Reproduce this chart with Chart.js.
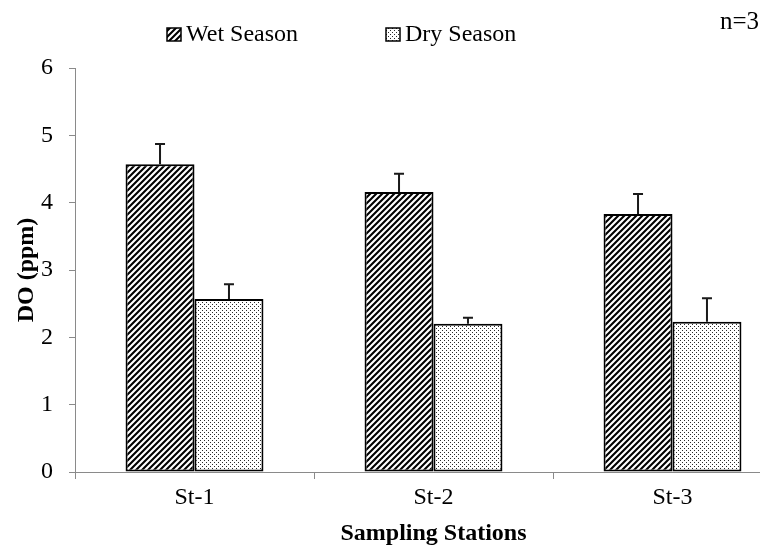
<!DOCTYPE html>
<html>
<head>
<meta charset="utf-8">
<title>DO (ppm) by sampling station</title>
<script src="https://cdn.jsdelivr.net/npm/chart.js@4.4.0/dist/chart.umd.min.js"></script>
<style>
  html, body { margin: 0; padding: 0; background: #fff; overflow: hidden; width: 760px; height: 548px; }
  canvas { display: block; }
</style>
</head>
<body>
<canvas id="doChart" width="800" height="548"></canvas>
<script>
// data
const stations = ["St-1", "St-2", "St-3"];
const wetSeason = [4.57, 4.16, 3.83];
const wetError = [0.30, 0.27, 0.30];
const drySeason = [2.57, 2.20, 2.23];
const dryError = [0.22, 0.09, 0.35];
const seasonLabels = ["Wet Season", "Dry Season"];
const yTicks = [0, 1, 2, 3, 4, 5, 6];

const SERIF = "'Liberation Serif', 'Times New Roman', serif";

function hatchPattern(ctx) {
  const s = 6;
  const c = document.createElement("canvas");
  c.width = s; c.height = s;
  const p = c.getContext("2d");
  p.fillStyle = "#fff";
  p.fillRect(0, 0, s, s);
  p.strokeStyle = "#000";
  p.lineWidth = 2.1;
  p.beginPath();
  p.moveTo(-1, s + 1); p.lineTo(s + 1, -1);
  p.moveTo(-1, 1); p.lineTo(1, -1);
  p.moveTo(s - 1, s + 1); p.lineTo(s + 1, s - 1);
  p.stroke();
  return ctx.createPattern(c, "repeat");
}

function dotPattern(ctx) {
  const c = document.createElement("canvas");
  c.width = 4; c.height = 4;
  const p = c.getContext("2d");
  p.fillStyle = "#fff";
  p.fillRect(0, 0, 4, 4);
  p.fillStyle = "#2a2a2a";
  p.fillRect(0, 0, 1, 1);
  p.fillRect(2, 2, 1, 1);
  return ctx.createPattern(c, "repeat");
}

const canvas = document.getElementById("doChart");
const ctx = canvas.getContext("2d");

// upward-only error bars, positioned through the y scale
const errorBars = {
  id: "errorBars",
  afterDatasetsDraw(chart) {
    const y = chart.scales.y;
    const g = chart.ctx;
    g.save();
    g.strokeStyle = "#1a1a1a";
    g.lineWidth = 2;
    chart.data.datasets.forEach((ds, di) => {
      const meta = chart.getDatasetMeta(di);
      meta.data.forEach((bar, i) => {
        const top = y.getPixelForValue(ds.data[i] + ds.errors[i]);
        g.beginPath();
        g.moveTo(bar.x, bar.y);
        g.lineTo(bar.x, top);
        g.moveTo(bar.x - 5, top);
        g.lineTo(bar.x + 5, top);
        g.stroke();
      });
    });
    g.restore();
  }
};

// legend row at the top and the n=3 note
const topLegend = {
  id: "topLegend",
  afterDraw(chart) {
    const g = chart.ctx;
    const starts = [167, 386];
    g.save();
    g.font = "24px " + SERIF;
    g.textBaseline = "middle";
    chart.data.datasets.forEach((ds, i) => {
      const x = starts[i];
      g.fillStyle = ds.backgroundColor;
      g.fillRect(x, 28, 14, 13);
      g.strokeStyle = "#000";
      g.lineWidth = 1.5;
      g.strokeRect(x, 28, 14, 13);
      g.fillStyle = "#000";
      g.fillText(ds.label, x + 19, 35);
    });
    g.font = "25px " + SERIF;
    g.textAlign = "right";
    g.fillText("n=3", 759, 22);
    g.restore();
  }
};

new Chart(canvas, {
  type: "bar",
  data: {
    labels: stations,
    datasets: [
      {
        label: seasonLabels[0],
        data: wetSeason,
        errors: wetError,
        backgroundColor: hatchPattern(ctx),
        borderColor: "#000",
        borderWidth: 2,
        borderSkipped: false
      },
      {
        label: seasonLabels[1],
        data: drySeason,
        errors: dryError,
        backgroundColor: dotPattern(ctx),
        borderColor: "#000",
        borderWidth: 2,
        borderSkipped: false
      }
    ]
  },
  options: {
    responsive: false,
    animation: false,
    events: [],
    layout: { padding: { left: 12, top: 68, right: 8, bottom: 0 } },
    datasets: {
      bar: { categoryPercentage: 0.577, barPercentage: 1 }
    },
    plugins: {
      legend: { display: false },
      tooltip: { enabled: false }
    },
    scales: {
      x: {
        afterFit: scale => { scale.height = 76; },
        grid: { display: true, drawOnChartArea: false, drawTicks: true, tickLength: 7, color: "#8a8a8a", offset: true },
        border: { display: true, color: "#8a8a8a", width: 1 },
        ticks: { color: "#000", font: { family: SERIF, size: 24 }, padding: 4 },
        title: {
          display: true,
          text: "Sampling Stations",
          color: "#000",
          font: { family: SERIF, size: 24, weight: "bold" },
          padding: { top: 2, bottom: 0 }
        }
      },
      y: {
        min: 0,
        max: 6,
        afterFit: scale => { scale.width = 63; },
        afterBuildTicks: scale => { scale.ticks = yTicks.map(v => ({ value: v })); },
        grid: { display: true, drawOnChartArea: false, drawTicks: true, tickLength: 6, color: "#8a8a8a" },
        border: { display: true, color: "#8a8a8a", width: 1 },
        ticks: { color: "#000", font: { family: SERIF, size: 24 }, padding: 16 },
        title: {
          display: true,
          text: "DO (ppm)",
          color: "#000",
          font: { family: SERIF, size: 24, weight: "bold" },
          padding: { top: 0, bottom: 0 }
        }
      }
    }
  },
  plugins: [errorBars, topLegend]
});
</script>
</body>
</html>
